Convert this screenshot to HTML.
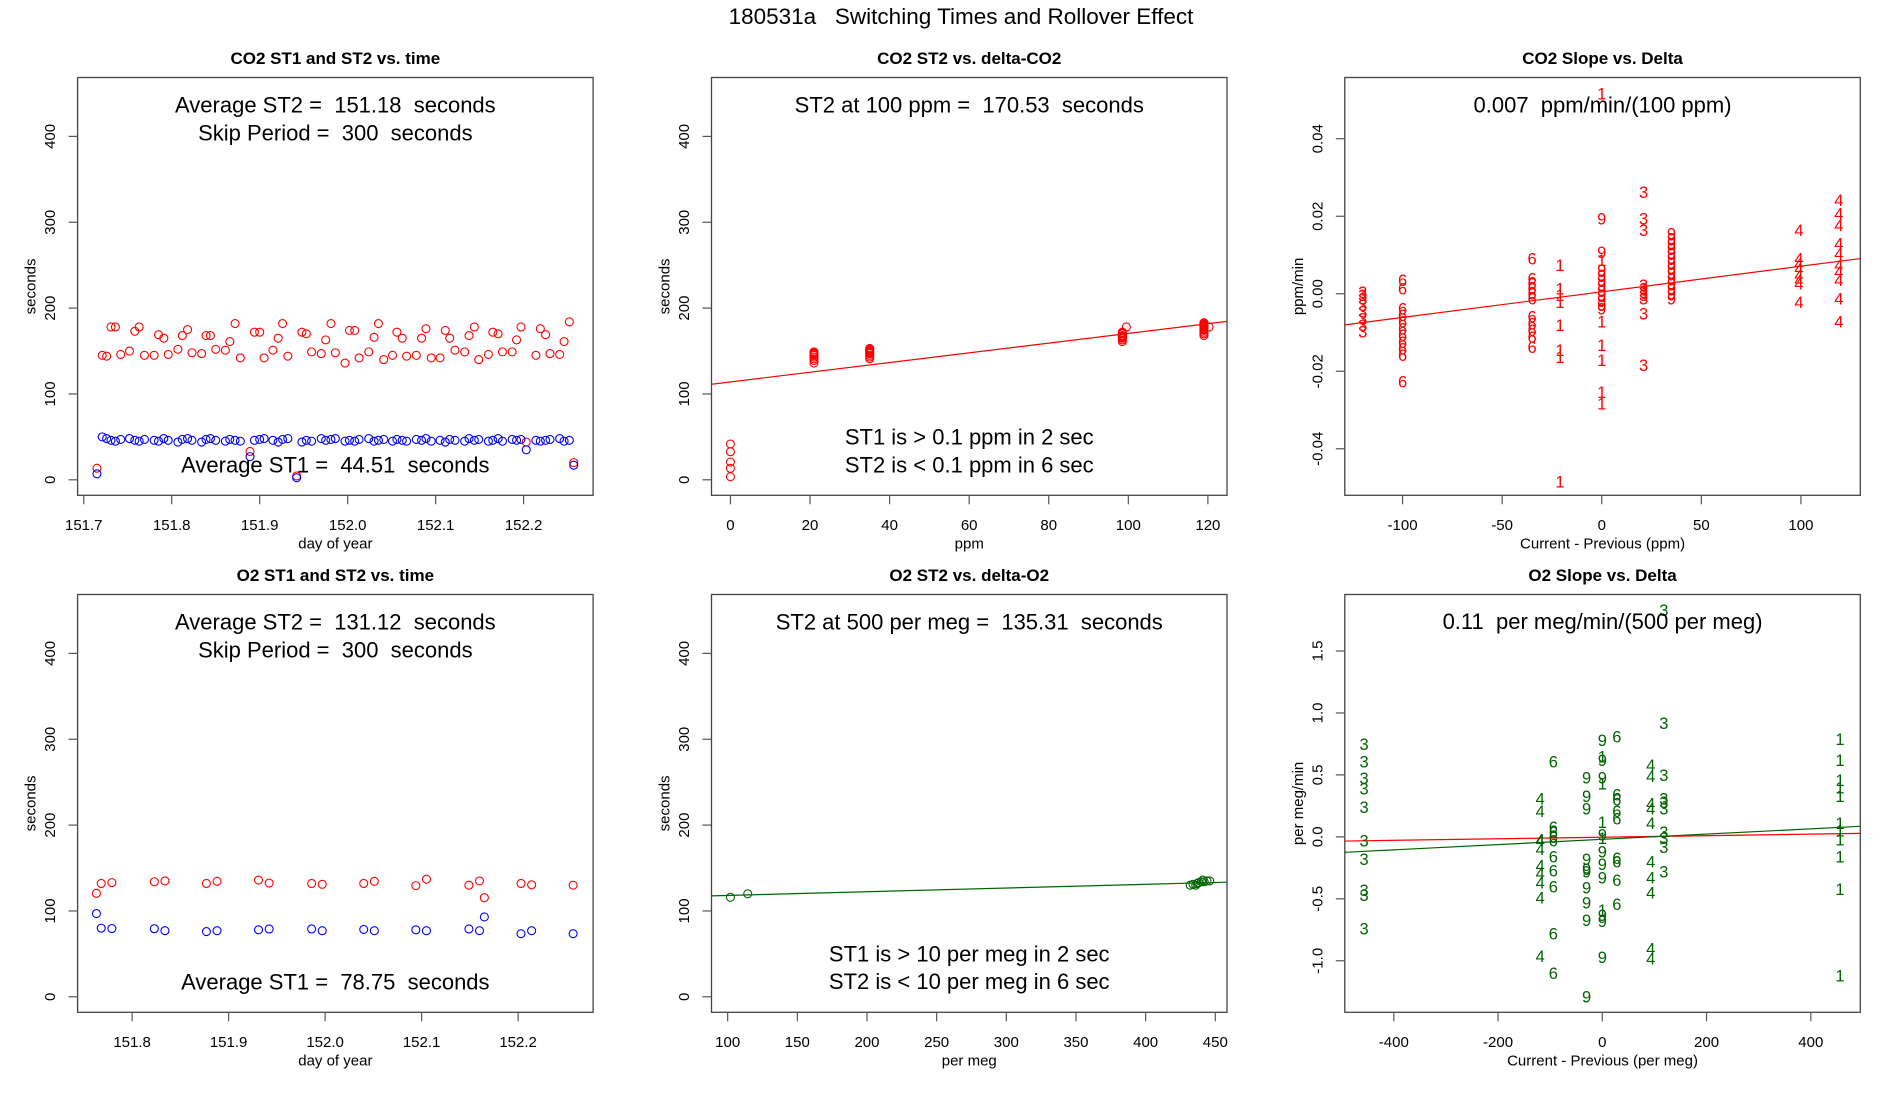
<!DOCTYPE html>
<html><head><meta charset="utf-8"><title>180531a Switching Times and Rollover Effect</title>
<style>
html,body{margin:0;padding:0;background:#fff;}
svg{display:block;font-family:"Liberation Sans",Arial,sans-serif;}
.pre{white-space:pre;}
</style></head>
<body>
<svg id="chart" xmlns="http://www.w3.org/2000/svg" width="1900" height="1100" viewBox="0 0 1900 1100">
<rect x="0" y="0" width="1900" height="1100" fill="#fff"/>
<text x="961" y="24" font-size="22.5" text-anchor="middle" fill="#000" class="pre">180531a   Switching Times and Rollover Effect</text>
</svg>
<script>
// ---------- CO2 ST1/ST2 vs time ----------
const co2Days = [151.715,151.721,151.726,151.731,151.736,151.742,151.752,151.758,151.763,151.769,151.780,151.785,151.791,151.796,151.807,151.812,151.818,151.823,151.834,151.839,151.844,151.850,151.861,151.866,151.872,151.878,151.889,151.894,151.900,151.905,151.915,151.921,151.926,151.932,151.942,151.948,151.953,151.959,151.970,151.975,151.981,151.986,151.997,152.002,152.008,152.013,152.024,152.030,152.035,152.041,152.051,152.056,152.062,152.067,152.078,152.084,152.089,152.095,152.105,152.111,152.116,152.122,152.133,152.138,152.144,152.149,152.160,152.165,152.171,152.176,152.187,152.192,152.197,152.203,152.214,152.219,152.225,152.230,152.241,152.246,152.252,152.257];
const co2St2 = [13.5,145,144,178,178,146,150,173,178,145,145,169,165,146,152,168,175,148,147,168,168,152,151,161,182,142,33,172,172,142,151,165,182,144,4.5,172,170,149,147,163,182,148,136,174,174,142,149,166,182,140,145,172,165,144,145,165,176,142,142,174,165,151,149,168,178,140,146,172,170,149,149,163,178,44,145,176,169,147,146,161,184,20];
const co2St1 = [7,50,48,46,45,47,48,46,45,47,46,45,48,46,44,47,48,46,44,47,48,46,45,47,46,45,27,46,47,48,46,44,47,48,2.5,44,46,45,48,46,47,48,45,46,45,47,48,45,46,47,45,47,46,45,47,46,48,45,46,44,47,46,45,48,46,47,45,46,48,45,47,46,47,35,46,45,46,47,48,45,46,17];
// ---------- CO2 ST2 vs delta ----------
const co2Delta = [0,0,0,0,0,21,21,21,21,21,21,21,21,21,35,35,35,35,35,35,35,35,35,35,98.5,98.5,98.5,98.5,98.5,98.5,98.5,98.5,98.5,99.5,119,119,119,119,119,119,119,119,119,119,119,119,120.3];
const co2St2Delta = [41.7,32.7,20.7,13.4,3.6,136,139,141,143,145,146,147,148,149,141,143,145,147,148,149,150,151,152,153,161,163,165,166,167,168,170,171,172,178,168,170,172,174,175,176,178,179,180,181,182,183,178];
const co2St2Fit = [114.0, 0.5653];
// ---------- CO2 slope vs delta ----------
const co2SlopeX = [-120,-100,-35,-21,0,0,21,35,99,119];
const co2SlopeLab = ['3','6','6','1','9','1','3','9','4','4'];
const co2SlopeVals = [
 [0.0005,-0.0003,-0.0012,-0.0029,-0.0046,-0.0064,-0.0081,-0.0098],
 [0.0035,0.0014,-0.0038,-0.0055,-0.0072,-0.0089,-0.0107,-0.0124,-0.0141,-0.0158,-0.0227],
 [0.0091,0.004,0.0027,0.0014,0.0001,-0.0012,-0.0059,-0.0077,-0.0094,-0.0111,-0.0137],
 [0.0074,0.0014,-0.0003,-0.0021,-0.0081,-0.0145,-0.0163,-0.0485],
 [0.0194,0.0108,0.0061,0.0048,0.0035,0.0022,0.0009,-0.0003,-0.0016,-0.0029,-0.0038],
 [0.0087,-0.0072,-0.0132,-0.0171,-0.0253,-0.0283,0.0517],
 [0.0263,0.0194,0.0164,0.0022,0.0014,0.0005,-0.0003,-0.0012,-0.0051,-0.0184],
 [0.0156,0.0143,0.013,0.0117,0.0105,0.0092,0.0079,0.0066,0.0053,0.004,0.0027,0.0014,0.0001,-0.0012],
 [0.0164,0.0091,0.0078,0.0065,0.0048,0.0035,0.0027,-0.0021],
 [0.0242,0.0207,0.0177,0.013,0.0104,0.0074,0.0057,0.0035,-0.0012,-0.0072]
];
const co2SlopeFit = [0.0005, 0.0000661];
// ---------- O2 ST1/ST2 vs time ----------
const o2Days = [151.763,151.768,151.779,151.823,151.834,151.877,151.888,151.931,151.942,151.986,151.997,152.040,152.051,152.094,152.105,152.149,152.160,152.165,152.203,152.214,152.257];
const o2St2 = [120.5,132,133,134,135,132,134.5,136,132.5,132,131,132,134.5,129.5,137,130,135,115.5,132,130.5,130];
const o2St1 = [97,80,79.5,79.3,77,76,77,78,79,79,77,78.5,77,78,77,79,77,93,73.5,77,73.5];
// ---------- O2 ST2 vs delta ----------
const o2Delta = [102,114.4,432,434,436,437,438,440,441,442,444,446];
const o2St2Delta = [115.9,120,130,131,130,132,133,134,136,134,135,135];
const o2St2Fit = [113.8, 0.043];
// ---------- O2 slope vs delta ----------
const o2SlopeX = [-457,-119,-94,-30,0,0,28,93,118,456];
const o2SlopeLab = ['3','4','6','9','9','1','6','4','3','1'];
const o2SlopeVals = [
 [0.75,0.61,0.475,0.39,0.24,-0.03,-0.18,-0.43,-0.47,-0.74],
 [0.31,0.21,-0.02,-0.03,-0.1,-0.23,-0.29,-0.37,-0.49,-0.96],
 [0.61,0.08,0.04,0,-0.03,-0.16,-0.27,-0.4,-0.78,-1.1],
 [0.48,0.33,0.23,-0.18,-0.26,-0.28,-0.41,-0.53,-0.67,-1.29],
 [0.78,0.62,0.48,0.02,-0.12,-0.22,-0.33,-0.63,-0.68,-0.97],
 [0.65,0.43,0.12,-0.01,-0.59],
 [0.81,0.34,0.30,0.21,0.15,-0.17,-0.2,-0.35,-0.54],
 [0.58,0.49,0.27,0.23,0.11,-0.2,-0.33,-0.45,-0.9,-0.98],
 [1.83,0.92,0.5,0.31,0.28,0.23,0.04,-0.01,-0.08,-0.28],
 [0.79,0.62,0.46,0.40,0.33,0.11,0.05,-0.02,-0.16,-0.42,-1.12]
];
const o2SlopeFitRed = [-0.003, 0.0000627];
const o2SlopeFitGreen = [-0.02, 0.000212];
// ---------- tick arrays ----------
const timeTicksCo2 = [151.7,151.8,151.9,152.0,152.1,152.2];
const timeTicksO2 = [151.8,151.9,152.0,152.1,152.2];
const secTicks = [0,100,200,300,400];
const ppmTicks = [0,20,40,60,80,100,120];
const permegTicks = [100,150,200,250,300,350,400,450];
const dppmTicks = [-100,-50,0,50,100];
const slopePpmTicks = [-0.04,-0.02,0,0.02,0.04];
const dmegTicks = [-400,-200,0,200,400];
const slopeMegTicks = [-1.0,-0.5,0,0.5,1.0,1.5];

const NS = 'http://www.w3.org/2000/svg';
const svg = document.getElementById('chart');
function mk(tag, attrs, parent){
  const e = document.createElementNS(NS, tag);
  for (const k in attrs) e.setAttribute(k, attrs[k]);
  (parent || svg).appendChild(e);
  return e;
}
const W = 515.5, H = 417.8;
function makePanel(o){
  const p = Object.assign({w:W,h:H}, o);
  p.sx = v => p.x0 + (v - p.xmin) / (p.xmax - p.xmin) * p.w;
  p.sy = v => p.y0 + (p.ymax - v) / (p.ymax - p.ymin) * p.h;
  const g = mk('g', {});
  
  
  p.g = g;
  const t = mk('text', {x:p.x0+p.w/2, y:p.y0-13.5, 'font-size':17, 'font-weight':'bold', 'text-anchor':'middle'}, g);
  
  
  t.textContent = p.title;
  const box = mk('rect', {x:p.x0, y:p.y0, width:p.w, height:p.h, fill:'none', stroke:'#444', 'stroke-width':1.3}, g);
  
  
  const by = p.y0 + p.h;
  p.xticks.forEach(v => {
    const x = p.sx(v);
    const tk = mk('line', {x1:x, x2:x, y1:by, y2:by+9, stroke:'#555', 'stroke-width':1.2}, g);
    
    
    const tl = mk('text', {x:x, y:by+34.5, 'font-size':15, 'text-anchor':'middle'}, g);
    
    
    tl.textContent = p.xfmt ? p.xfmt(v) : String(v);
  });
  p.yticks.forEach(v => {
    const y = p.sy(v);
    const tk = mk('line', {x1:p.x0-9, x2:p.x0, y1:y, y2:y, stroke:'#555', 'stroke-width':1.2}, g);
    
    
    const tx = p.x0 - 22.4;
    const tl = mk('text', {x:tx, y:y, 'font-size':15, 'text-anchor':'middle', transform:'rotate(-90 '+tx+' '+y+')'}, g);
    
    
    tl.textContent = p.yfmt ? p.yfmt(v) : String(v);
  });
  const xt = mk('text', {x:p.x0+p.w/2, y:by+53, 'font-size':15, 'text-anchor':'middle'}, g);
  
  
  xt.textContent = p.xlab;
  const yx = p.x0 - 42, yy = p.y0 + p.h/2;
  const yt = mk('text', {x:yx, y:yy, 'font-size':15, 'text-anchor':'middle', transform:'rotate(-90 '+yx+' '+yy+')'}, g);
  
  
  yt.textContent = p.ylab;
  const cp = mk('clipPath', {id:'clip-'+p.name}, g);
  mk('rect', {x:p.x0, y:p.y0, width:p.w, height:p.h}, cp);
  p.inner = mk('g', {'clip-path':'url(#clip-'+p.name+')'}, g);
  return p;
}
function note(p, txt, y, name){
  const t = mk('text', {x:p.x0+p.w/2, y:y, 'font-size':22, 'text-anchor':'middle', 'class':'pre'}, p.g);
  
  
  t.textContent = txt;
}
function circles(p, xs, ys, color, name){
  xs.forEach((x, i) => {
    const c = mk('circle', {cx:p.sx(x), cy:p.sy(ys[i]), r:4, fill:'none', stroke:color, 'stroke-width':1.1}, p.inner);
    
    
  });
}
function fitLine(p, fit, color, name){
  const l = mk('line', {x1:p.sx(p.xmin), x2:p.sx(p.xmax), y1:p.sy(fit[0]+fit[1]*p.xmin), y2:p.sy(fit[0]+fit[1]*p.xmax), stroke:color, 'stroke-width':1.2}, p.inner);
  
  
}
function digits(p, xs, labs, vals, color, name){
  xs.forEach((x, i) => {
    vals[i].forEach(v => {
      const t = mk('text', {x:p.sx(x), y:p.sy(v)+6, 'font-size':16.5, 'text-anchor':'middle', fill:color}, p.g);
      
      
      t.textContent = labs[i];
    });
  });
}
const ROW1 = 77.5, ROW2 = 594.5, C1 = 77.6, C2 = 711.5, C3 = 1344.8;

const p1 = makePanel({name:'co2-time-panel', title:'CO2 ST1 and ST2 vs. time', x0:C1, y0:ROW1, xmin:151.693, xmax:152.279, ymin:-18.05, ymax:468.6, xticks:timeTicksCo2, yticks:secTicks, xfmt:v=>v.toFixed(1), xlab:'day of year', ylab:'seconds'});
circles(p1, co2Days, co2St2, '#ff0000', 'co2-st2-point');
circles(p1, co2Days, co2St1, '#0000ff', 'co2-st1-point');
note(p1, 'Average ST2 =  151.18  seconds', 112.5, 'co2-average-st2-note');
note(p1, 'Skip Period =  300  seconds', 140.5, 'co2-skip-period-note');
note(p1, 'Average ST1 =  44.51  seconds', 472.7, 'co2-average-st1-note');

const p2 = makePanel({name:'co2-delta-panel', title:'CO2 ST2 vs. delta-CO2', x0:C2, y0:ROW1, xmin:-4.76, xmax:124.8, ymin:-18.05, ymax:468.6, xticks:ppmTicks, yticks:secTicks, xlab:'ppm', ylab:'seconds'});
fitLine(p2, co2St2Fit, '#ff0000', 'co2-st2-fit-line');
circles(p2, co2Delta, co2St2Delta, '#ff0000', 'co2-st2-delta-point');
note(p2, 'ST2 at 100 ppm =  170.53  seconds', 112.5, 'co2-st2-at-100-note');
note(p2, 'ST1 is > 0.1 ppm in 2 sec', 444.7, 'co2-st1-note');
note(p2, 'ST2 is < 0.1 ppm in 6 sec', 472.3, 'co2-st2-note');

const p3 = makePanel({name:'co2-slope-panel', title:'CO2 Slope vs. Delta', x0:C3, y0:ROW1, xmin:-129, xmax:129.8, ymin:-0.052, ymax:0.0558, xticks:dppmTicks, yticks:slopePpmTicks, yfmt:v=>v.toFixed(2), xlab:'Current - Previous (ppm)', ylab:'ppm/min'});
fitLine(p3, co2SlopeFit, '#ff0000', 'co2-slope-fit-line');
digits(p3, co2SlopeX, co2SlopeLab, co2SlopeVals, '#ff0000', 'co2-slope-point');
note(p3, '0.007  ppm/min/(100 ppm)', 112.7, 'co2-slope-note');

const p4 = makePanel({name:'o2-time-panel', title:'O2 ST1 and ST2 vs. time', x0:C1, y0:ROW2, xmin:151.7435, xmax:152.2777, ymin:-18.05, ymax:468.6, xticks:timeTicksO2, yticks:secTicks, xfmt:v=>v.toFixed(1), xlab:'day of year', ylab:'seconds'});
circles(p4, o2Days, o2St2, '#ff0000', 'o2-st2-point');
circles(p4, o2Days, o2St1, '#0000ff', 'o2-st1-point');
note(p4, 'Average ST2 =  131.12  seconds', 629.5, 'o2-average-st2-note');
note(p4, 'Skip Period =  300  seconds', 657.5, 'o2-skip-period-note');
note(p4, 'Average ST1 =  78.75  seconds', 989.7, 'o2-average-st1-note');

const p5 = makePanel({name:'o2-delta-panel', title:'O2 ST2 vs. delta-O2', x0:C2, y0:ROW2, xmin:88.4, xmax:458.4, ymin:-18.05, ymax:468.6, xticks:permegTicks, yticks:secTicks, xlab:'per meg', ylab:'seconds'});
fitLine(p5, o2St2Fit, '#006400', 'o2-st2-fit-line');
circles(p5, o2Delta, o2St2Delta, '#006400', 'o2-st2-delta-point');
note(p5, 'ST2 at 500 per meg =  135.31  seconds', 629.5, 'o2-st2-at-500-note');
note(p5, 'ST1 is > 10 per meg in 2 sec', 961.3, 'o2-st1-note');
note(p5, 'ST2 is < 10 per meg in 6 sec', 989, 'o2-st2-note');

const p6 = makePanel({name:'o2-slope-panel', title:'O2 Slope vs. Delta', x0:C3, y0:ROW2, xmin:-494, xmax:495, ymin:-1.416, ymax:1.956, xticks:dmegTicks, yticks:slopeMegTicks, yfmt:v=>v.toFixed(1), xlab:'Current - Previous (per meg)', ylab:'per meg/min'});
fitLine(p6, o2SlopeFitRed, '#ff0000', 'o2-slope-fit-line-red');
fitLine(p6, o2SlopeFitGreen, '#006400', 'o2-slope-fit-line-green');
digits(p6, o2SlopeX, o2SlopeLab, o2SlopeVals, '#006400', 'o2-slope-point');
note(p6, '0.11  per meg/min/(500 per meg)', 629.2, 'o2-slope-note');
</script>
</body></html>
